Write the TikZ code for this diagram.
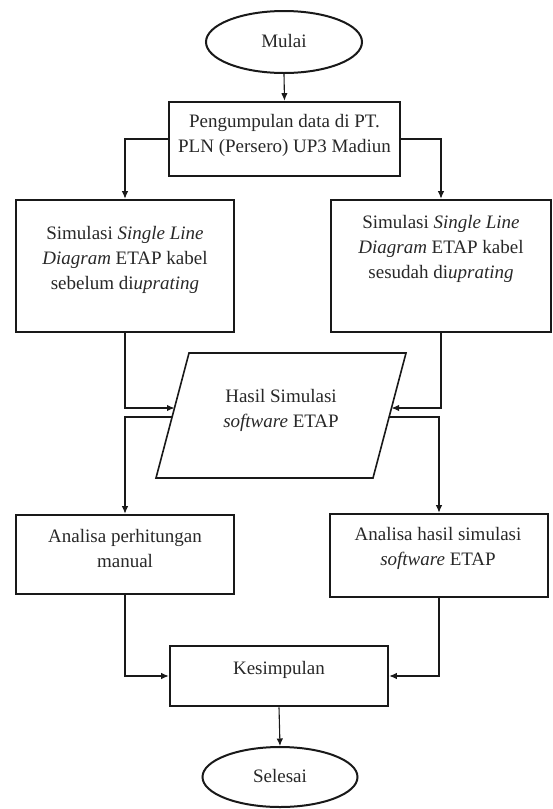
\documentclass[tikz,border=0pt]{standalone}
\usepackage{fontspec}
\setmainfont{Liberation Serif}
\usetikzlibrary{shapes.geometric,arrows.meta,calc}
\definecolor{linec}{RGB}{25,25,25}
\definecolor{textc}{RGB}{40,40,40}
\begin{document}
\begin{tikzpicture}[x=1pt,y=-1pt,
  box/.style={draw=linec, line width=2.6pt, rectangle, inner sep=0pt},
  term/.style={draw=linec, line width=2pt, ellipse, inner sep=0pt},
  frame/.style={rectangle, inner sep=0pt, outer sep=0pt},
  io/.style={draw=linec, line width=1.6pt, line join=miter},
  txt/.style={text=textc, font=\fontsize{19}{25}\selectfont, align=center, inner sep=0pt},
  conn/.style={draw=linec, line width=1.1pt, -{Latex[length=7.5pt,width=6.5pt]}},
]
\useasboundingbox[fill=white] (0,0) rectangle (553,809);

% shapes
\node[term, minimum width=156pt, minimum height=62pt] (mulai) at (284,42) {};
\node[box, minimum width=231pt, minimum height=74pt] (peng) at (284.5,139) {};
\node[box, minimum width=218pt, minimum height=132pt] (sim1) at (125,266) {};
\node[box, minimum width=220pt, minimum height=132pt] (sim2) at (441,266) {};
\node[frame, minimum width=250pt, minimum height=125pt] (hasil) at (281,415.5) {};
\draw[io] ($(hasil.north west)+(33,0)$) -- (hasil.north east)
  -- ($(hasil.south east)+(-33,0)$) -- (hasil.south west) -- cycle;
\node[box, minimum width=218pt, minimum height=79pt] (ana1) at (125,554.5) {};
\node[box, minimum width=218pt, minimum height=83pt] (ana2) at (439,555.5) {};
\node[box, minimum width=218pt, minimum height=60pt] (kes) at (279,676) {};
\node[term, minimum width=155pt, minimum height=60pt] (selesai) at (280,777) {};

% texts
\node[txt] (tmulai) at (284,41) {Mulai};
\node[txt] (tpeng) at (284.5,135) {Pengumpulan data di PT.\\PLN (Persero) UP3 Madiun};
\node[txt] (tsim1) at (125,260) {Simulasi \textit{Single Line}\\\textit{Diagram} ETAP kabel\\sebelum di\textit{uprating}};
\node[txt] (tsim2) at (441,249) {Simulasi \textit{Single Line}\\\textit{Diagram} ETAP kabel\\sesudah di\textit{uprating}};
\node[txt] (thasil) at (281,410) {Hasil Simulasi\\\textit{software} ETAP};
\node[txt] (tana1) at (125,548.5) {Analisa perhitungan\\manual};
\node[txt] (tana2) at (438,548.5) {Analisa hasil simulasi\\\textit{software} ETAP};
\node[txt] (tkes) at (279,670) {Kesimpulan};
\node[txt] (tsel) at (280,776) {Selesai};

% connection points on the slanted sides
\coordinate (pin1) at ($(hasil.west)+(18.5,-7.5)$);
\coordinate (pin2) at ($(hasil.east)+(-14.5,-7.5)$);
\coordinate (pout1) at ($(hasil.west)+(16.1,1.5)$);
\coordinate (pout2) at ($(hasil.east)+(-16.9,1.5)$);

% connectors
\draw[conn] (mulai.south) -- (peng.north);
\draw[conn] (peng.west) -| (sim1.north);
\draw[conn] (peng.east) -| (sim2.north);
\draw[conn] (sim1.south) |- (pin1);
\draw[conn] (sim2.south) |- (pin2);
\draw[conn] (pout1) -| (ana1.north);
\draw[conn] (pout2) -| (ana2.north);
\draw[conn] (ana1.south) |- (kes.west);
\draw[conn] (ana2.south) |- (kes.east);
\draw[conn] (kes.south) -- (selesai.north);
\end{tikzpicture}
\end{document}
